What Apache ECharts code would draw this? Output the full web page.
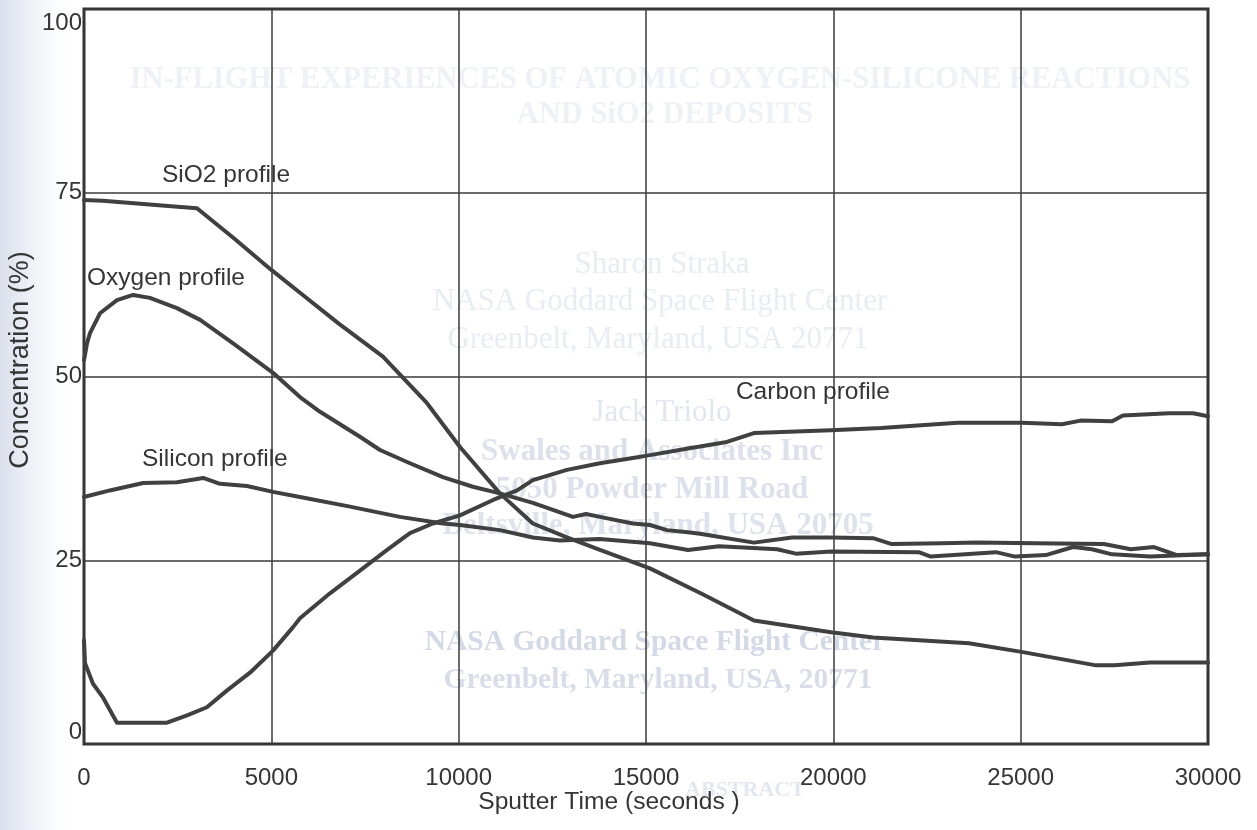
<!DOCTYPE html>
<html>
<head>
<meta charset="utf-8">
<script src="https://cdn.jsdelivr.net/npm/echarts@6/dist/echarts.min.js"></script>
<style>
html,body{margin:0;padding:0;background:#fff;}
#chart{width:1257px;height:830px;}
</style>
</head>
<body>
<div id="chart"></div>
<script>
// ---- data (sputter time in seconds, concentration in %) ----
const xTicks = [0, 5000, 10000, 15000, 20000, 25000, 30000];
const yTicks = [0, 25, 50, 75, 100];

const sio2Profile = [[0,74.0],[500,73.9],[1000,73.7],[1500,73.5],[2000,73.3],[2500,73.1],[3016,72.9],[4000,68.8],[5000,64.5],[5765,61.4],[6800,57.2],[7980,52.7],[9150,46.4],[10035,40.4],[11100,34.1],[11980,30.0],[12890,28.1],[13770,26.4],[15105,23.9],[16500,20.4],[17880,16.8],[19940,15.2],[21060,14.5],[23620,13.7],[25060,12.5],[27010,10.7],[27500,10.7],[28450,11.1],[30000,11.1]];

const oxygenProfile = [[0,52.2],[80,54.5],[160,55.9],[427,58.6],[880,60.4],[1310,61.1],[1760,60.7],[2480,59.3],[3100,57.7],[3980,54.5],[5045,50.5],[5765,47.2],[6300,45.2],[7365,41.8],[7900,40.0],[8700,38.2],[9580,36.3],[10380,35.0],[11100,34.1],[11980,32.8],[13050,30.9],[13400,31.3],[13770,30.9],[14650,30.0],[15105,29.8],[15560,29.1],[16120,28.8],[16440,28.6],[17880,27.4],[18900,28.1],[19940,28.1],[21060,28.0],[21560,27.2],[22900,27.3],[23830,27.4],[25380,27.3],[27220,27.2],[27940,26.5],[28560,26.8],[29170,25.7],[30000,25.8]];

const siliconProfile = [[0,33.6],[690,34.5],[1580,35.5],[2480,35.6],[3180,36.2],[3630,35.4],[4350,35.1],[5045,34.3],[5765,33.6],[7100,32.3],[8430,30.9],[9580,30.0],[10035,29.8],[11100,29.1],[11980,28.1],[12700,27.7],[13770,27.9],[15105,27.3],[16120,26.4],[16950,26.9],[18500,26.5],[19000,25.9],[19940,26.2],[22280,26.1],[22600,25.5],[24340,26.1],[24850,25.5],[25670,25.7],[26400,26.8],[26900,26.5],[27440,25.8],[28450,25.5],[30000,25.8]];

const carbonProfile = [[0,14.1],[27,11.0],[240,8.2],[510,6.3],[880,2.9],[1500,2.9],[2215,2.9],[2750,3.9],[3280,5.0],[3820,7.3],[4430,9.7],[5045,12.7],[5580,15.9],[5765,17.1],[6565,20.5],[7365,23.6],[8090,26.4],[8700,28.7],[9310,30.0],[10035,31.1],[10920,33.2],[11560,34.5],[11980,35.9],[12890,37.3],[13770,38.2],[14650,38.9],[15105,39.3],[16120,40.2],[17160,41.1],[17880,42.3],[19940,42.7],[21270,43.0],[23320,43.7],[25030,43.7],[26100,43.5],[26600,44.0],[27440,43.9],[27730,44.7],[28960,45.0],[29600,45.0],[30000,44.6]];

const seriesNames = ['SiO2 profile', 'Oxygen profile', 'Silicon profile', 'Carbon profile'];
// label anchor (left edge, vertical middle) in data coordinates
const labelAnchors = [[2082,77.4],[80,63.4],[1548,38.7],[17400,47.8]];

const xAxisTitle = 'Sputter Time (seconds )';
const yAxisTitle = 'Concentration (%)';

// faint bleed-through text from the reverse side of the scanned page
const ghostLines = [
  ['IN-FLIGHT EXPERIENCES OF ATOMIC OXYGEN-SILICONE REACTIONS', 660, 80, '#eef1f6', 30.5, 'bold'],
  ['AND SiO2 DEPOSITS', 665, 115, '#eef1f6', 30.5, 'bold'],
  ['Sharon Straka', 662, 265, '#e8ecf3', 31, 'normal'],
  ['NASA Goddard Space Flight Center', 660, 302, '#e8ecf3', 31, 'normal'],
  ['Greenbelt, Maryland, USA 20771', 658, 340, '#e8ecf3', 31, 'normal'],
  ['Jack Triolo', 662, 413, '#e2e6ef', 31, 'normal'],
  ['Swales and Associates Inc', 652, 452, '#dce1ec', 31, 'bold'],
  ['5050 Powder Mill Road', 652, 490, '#dce1ec', 31, 'bold'],
  ['Beltsville, Maryland, USA 20705', 658, 526, '#dde2ed', 31, 'bold'],
  ['NASA Goddard Space Flight Center', 655, 642, '#d3d9e6', 29.5, 'bold'],
  ['Greenbelt, Maryland, USA, 20771', 658, 680, '#d8dde9', 29.5, 'bold'],
  ['ABSTRACT', 745, 790, '#e3e7f0', 22, 'bold']
];

const FONT = "'Liberation Sans', Arial, sans-serif";
const INK = '#353535';
const LINE = '#404040';

const chart = echarts.init(document.getElementById('chart'), null, {renderer: 'canvas'});

const seriesData = [sio2Profile, oxygenProfile, siliconProfile, carbonProfile];

const option = {
  animation: false,
  backgroundColor: '#ffffff',
  grid: {
    left: 84, top: 9, width: 1124, height: 735,
    show: true, borderColor: '#2e2e2e', borderWidth: 3, backgroundColor: 'transparent',
    containLabel: false
  },
  xAxis: {
    type: 'value', min: 0, max: 30000, interval: 5000,
    axisLine: {show: false}, axisTick: {show: false},
    splitLine: {show: true, lineStyle: {color: '#3a3a3a', width: 1.5}},
    axisLabel: {
      margin: 22, fontSize: 24, color: INK, fontFamily: FONT,
      formatter: v => xTicks.includes(v) ? String(v) : ''
    }
  },
  yAxis: {
    type: 'value', min: 0, max: 100, interval: 25,
    axisLine: {show: false}, axisTick: {show: false},
    splitLine: {show: true, lineStyle: {color: '#3a3a3a', width: 1.5}},
    axisLabel: {
      margin: 2, fontSize: 24, color: INK, fontFamily: FONT,
      formatter: v => {
        if (!yTicks.includes(v)) return '';
        if (v === 0) return '{lo|' + v + '}';
        if (v === 100) return '{hi|' + v + '}';
        return String(v);
      },
      rich: {
        lo: {fontSize: 24, color: INK, fontFamily: FONT, padding: [0, 0, 23, 0]},
        hi: {fontSize: 24, color: INK, fontFamily: FONT, padding: [28, 0, 0, 0]}
      }
    }
  },
  series: seriesData.map((d, i) => ({
    name: seriesNames[i],
    type: 'line',
    data: d,
    showSymbol: false,
    symbol: 'none',
    smooth: false,
    z: 5,
    lineStyle: {color: LINE, width: 4, join: 'round', cap: 'round'}
  }))
};

chart.setOption(option);

function buildGraphics() {
  const els = [];
  // left edge scan shading
  els.push({
    type: 'rect', z: -20, silent: true,
    shape: {x: 0, y: 0, width: 75, height: 830},
    style: {fill: new echarts.graphic.LinearGradient(0, 0, 1, 0, [
      {offset: 0, color: 'rgba(218,223,235,1)'},
      {offset: 0.5, color: 'rgba(238,241,247,0.8)'},
      {offset: 1, color: 'rgba(255,255,255,0)'}
    ])}
  });
  ghostLines.forEach(g => {
    els.push({
      type: 'text', z: -10, silent: true,
      style: {
        text: g[0], x: g[1], y: g[2], align: 'center', verticalAlign: 'middle',
        fill: g[3], fontSize: g[4], fontWeight: g[5],
        fontFamily: "'Liberation Serif', 'DejaVu Serif', serif"
      }
    });
  });
  labelAnchors.forEach((a, i) => {
    const p = chart.convertToPixel({gridIndex: 0}, a);
    els.push({
      type: 'text', z: 10, silent: true,
      style: {
        text: seriesNames[i], x: p[0], y: p[1], align: 'left', verticalAlign: 'middle',
        fill: INK, fontSize: 24.5, fontFamily: FONT
      }
    });
  });
  els.push({
    type: 'text', z: 10, silent: true, x: 609, y: 802,
    style: {text: xAxisTitle, x: 0, y: 0, align: 'center', verticalAlign: 'middle',
      fill: INK, fontSize: 24.6, fontFamily: FONT}
  });
  els.push({
    type: 'text', z: 10, silent: true, x: 21, y: 360, rotation: Math.PI / 2,
    style: {text: yAxisTitle, x: 0, y: 0, align: 'center', verticalAlign: 'middle',
      fill: INK, fontSize: 27, fontFamily: FONT}
  });
  return els;
}

chart.setOption({graphic: {elements: buildGraphics()}});
</script>
</body>
</html>
